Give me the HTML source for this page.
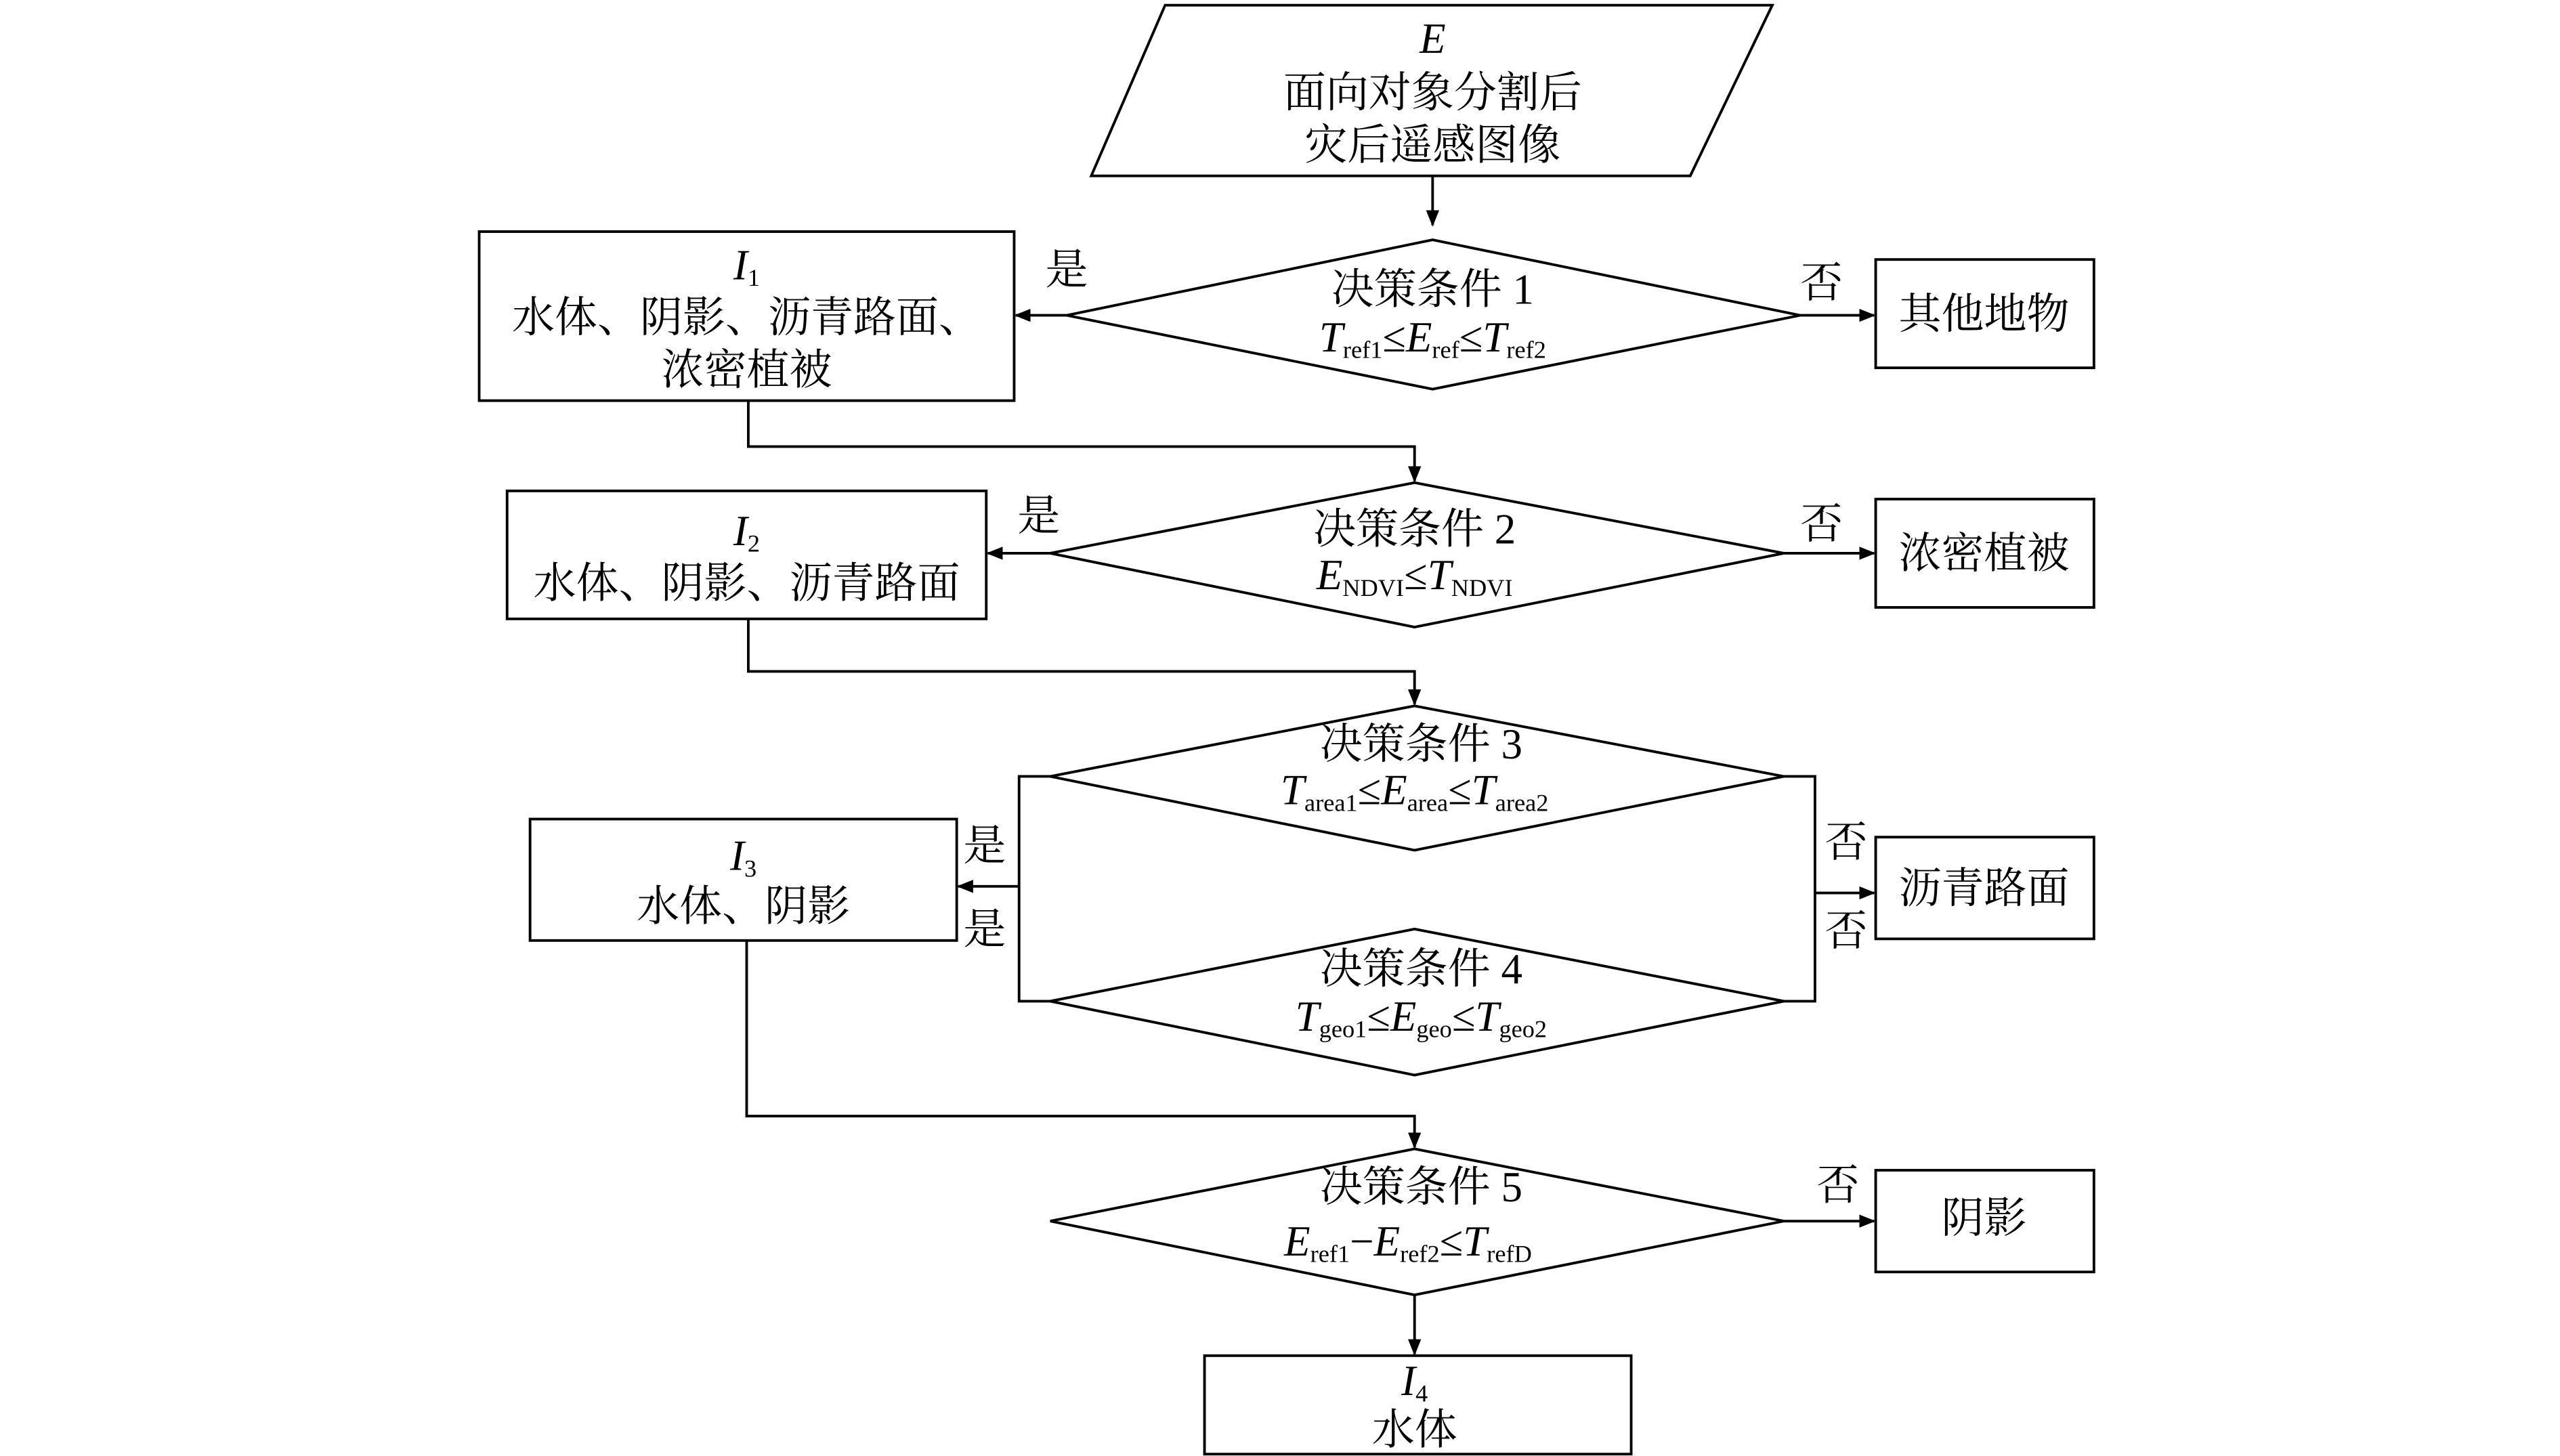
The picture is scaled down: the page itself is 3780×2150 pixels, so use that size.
<!DOCTYPE html>
<html><head><meta charset="utf-8"><style>
html,body{margin:0;padding:0;background:#fff;}
svg{display:block;}
text{font-family:"Liberation Serif","Noto Serif CJK SC",serif;font-size:26px;fill:#000;}
.s{font-size:15px;}
.i{font-style:italic;}
</style></head><body>
<svg width="3780" height="2150" viewBox="0 0 1560 887" xmlns="http://www.w3.org/2000/svg">
<defs><marker id="a" markerWidth="10" markerHeight="10" refX="9" refY="5" orient="auto" markerUnits="userSpaceOnUse"><path d="M0,1 L10,5 L0,9 Z" fill="#000"/></marker></defs>
<g fill="none" stroke="#000" stroke-width="1.6">
<polygon points="710,3 1080,3 1030,107 665,107"/>
<line x1="873" y1="107" x2="873" y2="137" marker-end="url(#a)"/>
<polygon points="650,192 873,146 1097,192 873,237"/>
<rect x="292" y="141" width="326" height="103"/>
<line x1="650" y1="192" x2="619" y2="192" marker-end="url(#a)"/>
<line x1="1097" y1="192" x2="1142" y2="192" marker-end="url(#a)"/>
<rect x="1143" y="158" width="133" height="66"/>
<polyline points="456,244 456,272 862,272 862,293" marker-end="url(#a)"/>
<polygon points="640,337 862,294 1087,337 862,382"/>
<rect x="309" y="299" width="292" height="78"/>
<line x1="640" y1="337" x2="602" y2="337" marker-end="url(#a)"/>
<line x1="1087" y1="337" x2="1142" y2="337" marker-end="url(#a)"/>
<rect x="1143" y="304" width="133" height="66"/>
<polyline points="456,377 456,409 862,409 862,429" marker-end="url(#a)"/>
<polygon points="640,473 862,430 1087,473 862,518"/>
<polygon points="640,610 862,566 1087,610 862,655"/>
<polyline points="640,473 621,473 621,610 640,610"/>
<line x1="621" y1="540" x2="584" y2="540" marker-end="url(#a)"/>
<polyline points="1087,473 1106,473 1106,610 1087,610"/>
<line x1="1106" y1="544" x2="1142" y2="544" marker-end="url(#a)"/>
<rect x="323" y="499" width="260" height="74"/>
<rect x="1143" y="510" width="133" height="62"/>
<polyline points="455,573 455,680 862,680 862,699" marker-end="url(#a)"/>
<polygon points="640,744 862,700 1087,744 862,789"/>
<line x1="1087" y1="744" x2="1142" y2="744" marker-end="url(#a)"/>
<rect x="1143" y="713" width="133" height="62"/>
<line x1="862" y1="789" x2="862" y2="825" marker-end="url(#a)"/>
<rect x="734" y="826" width="260" height="60"/>
</g>
<g text-anchor="middle">
<text x="873" y="32" class="i">E</text>
<text x="873" y="65">面向对象分割后</text>
<text x="873" y="97">灾后遥感图像</text>
<text x="873" y="185">决策条件 1</text>
<text x="873" y="214"><tspan class="i">T</tspan><tspan class="s" dy="4">ref1</tspan><tspan dy="-4">≤</tspan><tspan class="i">E</tspan><tspan class="s" dy="4">ref</tspan><tspan dy="-4">≤</tspan><tspan class="i">T</tspan><tspan class="s" dy="4">ref2</tspan></text>
<text x="455" y="170" class="i">I<tspan class="s" dy="4" font-style="normal">1</tspan></text>
<text x="455" y="202">水体、阴影、沥青路面、</text>
<text x="455" y="234">浓密植被</text>
<text x="650" y="173">是</text>
<text x="1110" y="181">否</text>
<text x="1209" y="200">其他地物</text>
<text x="862" y="331">决策条件 2</text>
<text x="862" y="359"><tspan class="i">E</tspan><tspan class="s" dy="4">NDVI</tspan><tspan dy="-4">≤</tspan><tspan class="i">T</tspan><tspan class="s" dy="4">NDVI</tspan></text>
<text x="455" y="332" class="i">I<tspan class="s" dy="4" font-style="normal">2</tspan></text>
<text x="455" y="364">水体、阴影、沥青路面</text>
<text x="633" y="323">是</text>
<text x="1110" y="328">否</text>
<text x="1209" y="346">浓密植被</text>
<text x="866" y="462">决策条件 3</text>
<text x="862" y="490"><tspan class="i">T</tspan><tspan class="s" dy="4">area1</tspan><tspan dy="-4">≤</tspan><tspan class="i">E</tspan><tspan class="s" dy="4">area</tspan><tspan dy="-4">≤</tspan><tspan class="i">T</tspan><tspan class="s" dy="4">area2</tspan></text>
<text x="866" y="599">决策条件 4</text>
<text x="866" y="628"><tspan class="i">T</tspan><tspan class="s" dy="4">geo1</tspan><tspan dy="-4">≤</tspan><tspan class="i">E</tspan><tspan class="s" dy="4">geo</tspan><tspan dy="-4">≤</tspan><tspan class="i">T</tspan><tspan class="s" dy="4">geo2</tspan></text>
<text x="453" y="530" class="i">I<tspan class="s" dy="4" font-style="normal">3</tspan></text>
<text x="453" y="561">水体、阴影</text>
<text x="600" y="524">是</text>
<text x="600" y="575">是</text>
<text x="1125" y="522">否</text>
<text x="1125" y="576">否</text>
<text x="1209" y="550">沥青路面</text>
<text x="866" y="732">决策条件 5</text>
<text x="858" y="765"><tspan class="i">E</tspan><tspan class="s" dy="4">ref1</tspan><tspan dy="-4">−</tspan><tspan class="i">E</tspan><tspan class="s" dy="4">ref2</tspan><tspan dy="-4">≤</tspan><tspan class="i">T</tspan><tspan class="s" dy="4">refD</tspan></text>
<text x="1120" y="731">否</text>
<text x="1209" y="751">阴影</text>
<text x="862" y="850" class="i">I<tspan class="s" dy="4" font-style="normal">4</tspan></text>
<text x="862" y="880">水体</text>
</g>
</svg>
</body></html>
